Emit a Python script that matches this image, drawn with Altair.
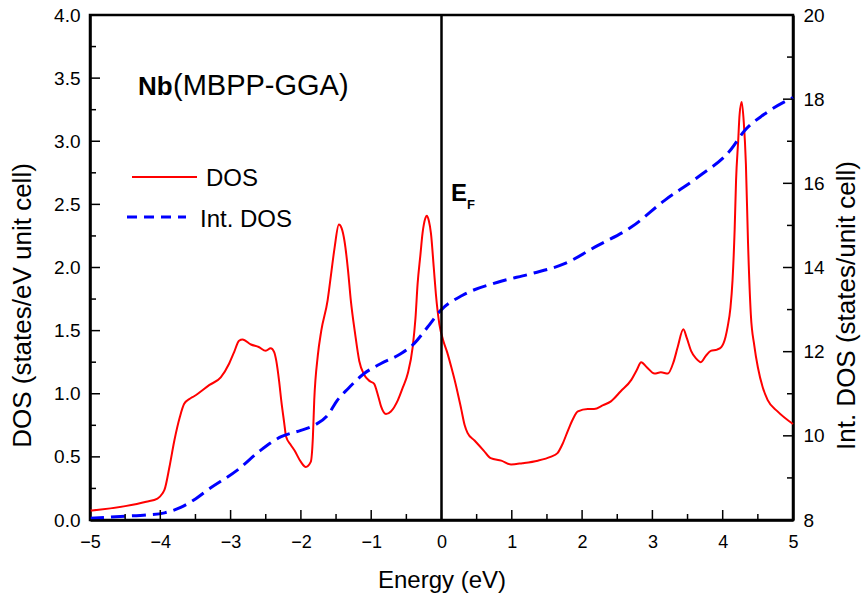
import altair as alt
import pandas as pd

# ---------------- data ----------------
energy_dos = [-5.00, -4.50, -4.20, -4.04, -3.97, -3.94, -3.87, -3.80, -3.72, -3.66, -3.58, -3.52,
              -3.30, -3.14, -3.02, -2.95, -2.88, -2.83, -2.71, -2.60, -2.50, -2.43, -2.38, -2.35,
              -2.31, -2.28, -2.24, -2.21, -2.15, -2.09, -2.00, -1.93, -1.86, -1.83, -1.81, -1.76,
              -1.71, -1.62, -1.57, -1.52, -1.46, -1.42, -1.38, -1.33, -1.29, -1.23, -1.17, -1.10,
              -1.02, -0.96, -0.90, -0.86, -0.79, -0.72, -0.62, -0.55, -0.48, -0.41, -0.37, -0.34,
              -0.30, -0.27, -0.23, -0.21, -0.18, -0.15, -0.11, -0.08, -0.03, 0.02, 0.08, 0.14,
              0.20, 0.28, 0.33, 0.37, 0.47, 0.60, 0.70, 0.85, 0.99, 1.15, 1.37, 1.55, 1.65, 1.72,
              1.80, 1.87, 1.94, 2.08, 2.17, 2.30, 2.41, 2.55, 2.70, 2.78, 2.84, 2.92, 3.03, 3.12,
              3.22, 3.30, 3.36, 3.44, 3.49, 3.55, 3.62, 3.69, 3.76, 3.83, 3.92, 3.98, 4.04, 4.07,
              4.11, 4.14, 4.17, 4.19, 4.22, 4.24, 4.27, 4.30, 4.33, 4.36, 4.40, 4.45, 4.50, 4.57,
              4.64, 4.78, 5.00]
dos_values = [0.074, 0.11, 0.145, 0.17, 0.21, 0.24, 0.42, 0.63, 0.82, 0.92, 0.96, 0.98,
              1.07, 1.13, 1.24, 1.33, 1.42, 1.43, 1.39, 1.37, 1.34, 1.36, 1.33, 1.26,
              1.10, 0.95, 0.78, 0.66, 0.60, 0.55, 0.46, 0.42, 0.46, 0.65, 0.95, 1.30,
              1.50, 1.74, 1.95, 2.16, 2.34, 2.31, 2.21, 1.98, 1.74, 1.48, 1.26, 1.15,
              1.10, 1.08, 0.98, 0.90, 0.84, 0.86, 0.95, 1.05, 1.16, 1.37, 1.60, 1.87,
              2.10, 2.27, 2.39, 2.41, 2.37, 2.27, 2.00, 1.79, 1.55, 1.43, 1.33, 1.21,
              1.08, 0.88, 0.75, 0.69, 0.63, 0.55, 0.49, 0.47, 0.44, 0.45, 0.47, 0.50, 0.53, 0.60,
              0.71, 0.80, 0.86, 0.88, 0.88, 0.91, 0.94, 1.02, 1.11, 1.19, 1.25, 1.21, 1.16, 1.17,
              1.16, 1.25, 1.37, 1.51, 1.44, 1.34, 1.28, 1.25, 1.30, 1.34, 1.35, 1.37, 1.45, 1.53,
              1.68, 1.90, 2.30, 2.69, 3.00, 3.21, 3.31, 3.15, 2.82, 2.20, 1.63, 1.38, 1.21, 1.05,
              0.95, 0.86, 0.76]

energy_int = [-5.00, -4.50, -4.20, -3.94, -3.71, -3.50, -3.33, -2.90, -2.57, -2.28, -2.00, -1.81,
              -1.62, -1.48, -1.33, -1.10, -0.86, -0.58, -0.39, -0.20, 0.00, 0.30, 0.80, 1.27,
              1.75, 2.22, 2.70, 3.17, 3.64, 4.12, 4.31, 4.59, 5.00]
int_dos_values = [8.04, 8.09, 8.12, 8.17, 8.30, 8.50, 8.71, 9.19, 9.66, 9.98, 10.13, 10.25,
                  10.49, 10.85, 11.12, 11.48, 11.72, 11.95, 12.19, 12.58, 13.00, 13.34, 13.65, 13.85,
                  14.09, 14.52, 14.96, 15.59, 16.14, 16.81, 17.25, 17.64, 18.04]

fermi_energy = [0.0]

x_major = [-5, -4, -3, -2, -1, 0, 1, 2, 3, 4, 5]
x_minor = [-4.5, -3.5, -2.5, -1.5, -0.5, 0.5, 1.5, 2.5, 3.5, 4.5]
left_major = [0.0, 0.5, 1.0, 1.5, 2.0, 2.5, 3.0, 3.5, 4.0]
left_minor = [0.25, 0.75, 1.25, 1.75, 2.25, 2.75, 3.25, 3.75]
right_major = [8, 10, 12, 14, 16, 18, 20]
right_minor = [9, 11, 13, 15, 17, 19]

series_names = ["DOS", "Int. DOS"]
title_bold = "Nb"
title_rest = "(MBPP-GGA)"
ef_main = "E"
ef_sub = "F"

x_title = "Energy (eV)"
y_left_title = "DOS (states/eV unit cell)"
y_right_title = "Int. DOS (states/unit cell)"

# ---------------- layout ----------------
W, H = 703, 505
FONT = "Liberation Sans"
RED = "#ff0000"
BLUE = "#0000ff"
MAJ, MIN = 10, 6

dos_df = pd.DataFrame({"E": energy_dos, "DOS": dos_values})
int_df = pd.DataFrame({"E": energy_int, "IntDOS": int_dos_values})

xscale = alt.Scale(domain=[-5, 5], nice=False, zero=False)
lscale = alt.Scale(domain=[0, 4], nice=False, zero=False)
rscale = alt.Scale(domain=[8, 20], nice=False, zero=False)

x_axis = alt.Axis(values=x_major, format="d", title=x_title, grid=False, ticks=False,
                  labelFlush=False, labelOverlap=False,
                  labelFontSize=18, labelFont=FONT, labelColor="black", labelPadding=13,
                  titleFontSize=24, titleFont=FONT, titleFontWeight="normal", titleColor="black",
                  titlePadding=17, domainColor="black", domainWidth=2.5)
left_axis = alt.Axis(values=left_major, format=".1f", title=y_left_title, grid=False, ticks=False,
                     labelFlush=False, labelOverlap=False,
                     labelFontSize=19, labelFont=FONT, labelColor="black", labelPadding=10,
                     titleFontSize=26, titleFont=FONT, titleFontWeight="normal", titleColor="black",
                     titleX=-68, titleY=290, titleAngle=270, titleBaseline="middle", titleAlign="center",
                     domainColor="black", domainWidth=2.5)
right_axis = alt.Axis(values=right_major, format="d", title=y_right_title, orient="right", grid=False,
                      ticks=False, labelFlush=False, labelOverlap=False,
                      labelFontSize=19, labelFont=FONT, labelColor="black",
                      labelPadding=10, titleFontSize=26, titleFont=FONT, titleFontWeight="normal",
                      titleColor="black", titleX=53, titleY=290, titleAngle=270,
                      titleBaseline="middle", titleAlign="center",
                      domainColor="black", domainWidth=2.5)

X = alt.X("E:Q", scale=xscale, axis=x_axis)

dos_line = alt.Chart(dos_df).mark_line(color=RED, strokeWidth=2, interpolate="monotone").encode(
    x=X,
    y=alt.Y("DOS:Q", scale=lscale, axis=left_axis),
)

int_line = alt.Chart(int_df).mark_line(color=BLUE, strokeWidth=3, strokeDash=[14, 7],
                                       interpolate="monotone").encode(
    x=X,
    y=alt.Y("IntDOS:Q", scale=rscale, axis=right_axis),
)

ef_rule = alt.Chart(pd.DataFrame({"E": fermi_energy})).mark_rule(color="black", strokeWidth=2.5).encode(
    x=X, y=alt.value(0), y2=alt.value(H),
)


def bottom_ticks(vals, length):
    return alt.Chart(pd.DataFrame({"E": vals})).mark_rule(color="black", strokeWidth=1.5).encode(
        x=X, y=alt.value(H), y2=alt.value(H - length))


def left_ticks(vals, length):
    return alt.Chart(pd.DataFrame({"v": vals})).mark_rule(color="black", strokeWidth=1.5).encode(
        y=alt.Y("v:Q", scale=lscale, axis=None), x=alt.value(0), x2=alt.value(length))


def right_ticks(vals, length):
    return alt.Chart(pd.DataFrame({"v": vals})).mark_rule(color="black", strokeWidth=1.5).encode(
        y=alt.Y("v:Q", scale=rscale, axis=None), x=alt.value(W), x2=alt.value(W - length))


def label(text, x, y, size, weight="normal"):
    return alt.Chart(pd.DataFrame({"t": [text]})).mark_text(
        align="left", baseline="alphabetic", fontSize=size, fontWeight=weight, font=FONT, color="black"
    ).encode(text="t:N", x=alt.value(x), y=alt.value(y))


leg_dos_line = alt.Chart(pd.DataFrame({"s": [series_names[0]]})).mark_rule(color=RED, strokeWidth=2).encode(
    x=alt.value(42), x2=alt.value(107), y=alt.value(162))
leg_int_line = alt.Chart(pd.DataFrame({"s": [series_names[1]]})).mark_rule(
    color=BLUE, strokeWidth=3, strokeDash=[10, 7]).encode(x=alt.value(37), x2=alt.value(96), y=alt.value(202))

chart = alt.layer(
    dos_line, int_line, ef_rule,
    bottom_ticks(x_major, MAJ), bottom_ticks(x_minor, MIN),
    left_ticks(left_major, MAJ), left_ticks(left_minor, MIN),
    right_ticks(right_major, MAJ), right_ticks(right_minor, MIN),
    label(title_bold, 48, 80, 26, "bold"), label(title_rest, 83, 80, 29),
    label(ef_main, 361, 186, 24, "bold"), label(ef_sub, 377, 194, 13, "bold"),
    leg_dos_line, label(series_names[0], 116, 171, 24),
    leg_int_line, label(series_names[1], 110, 212, 24),
).resolve_scale(y="independent").properties(
    width=W, height=H,
    autosize=alt.AutoSizeParams(type="none"),
    padding={"left": 90, "top": 15, "right": 69, "bottom": 76},
    background="white",
).configure_view(stroke="black", strokeWidth=2.5)

chart.save("out.html", embed_options={"renderer": "svg", "actions": False})
